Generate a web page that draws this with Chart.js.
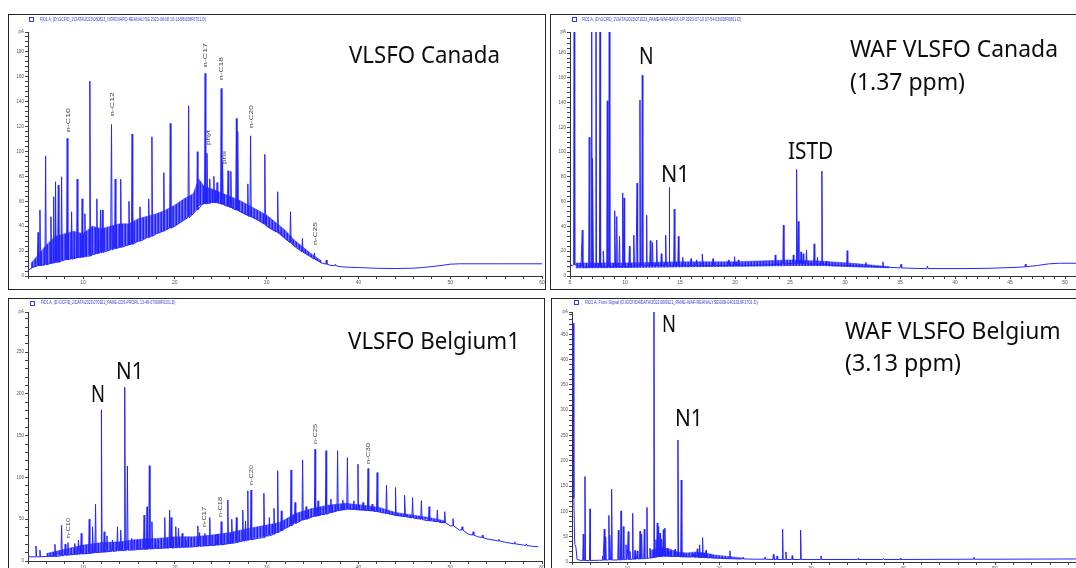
<!DOCTYPE html>
<html>
<head>
<meta charset="utf-8">
<title>VLSFO / WAF chromatograms</title>
<script src="https://cdn.jsdelivr.net/npm/chart.js@4.4.1/dist/chart.umd.min.js"></script>
<style>
  html, body { margin: 0; padding: 0; background: #fff; }
  body { position: relative; width: 1076px; height: 568px; overflow: hidden; }
  canvas { position: absolute; }
  .frame { position: absolute; border: 1px solid #262626; box-sizing: border-box; pointer-events: none; }
  .big { position: absolute; white-space: nowrap; font-family: 'Noto Sans', sans-serif; font-size: 23.5px; color: #0d0d0d; line-height: 1; transform-origin: 0 0; }
  .path { position: absolute; white-space: nowrap; font-family: 'Liberation Sans', sans-serif; font-size: 5px; color: #3a3ad8; line-height: 1; transform-origin: 0 0; }
  .sq { position: absolute; width: 3px; height: 3px; border: 1px solid #3535e0; }
  .pk { position: absolute; white-space: nowrap; font-family: 'Liberation Sans', sans-serif; font-size: 5.5px; color: #3c3c3c; line-height: 1; transform-origin: 0 0; }
</style>
</head>
<body>
<script>
// ─── Data: VLSFO Canada (top left) ───────────────────────────────────────────
const tlBaseT = [4, 4.5, 5, 5.5, 6, 6.5, 7, 7.5, 8, 8.5, 9, 9.5, 10, 10.5, 11, 12, 13, 14, 15, 16, 17, 18, 19, 20, 21, 22, 22.5, 23, 24, 25, 26, 27, 28, 29, 30, 31, 32, 33, 34, 35, 36, 37, 38, 39, 40, 42, 44, 46, 47, 48, 49, 50, 51, 55, 60];
const tlBaseV = [4.5, 7, 8, 8.5, 9, 10, 11, 11.5, 13, 13.5, 14, 15, 15.5, 16, 17, 19, 21, 23, 25, 28, 31, 34, 37, 40, 45, 50, 55, 58, 59, 58, 55, 52, 48, 45, 40, 35.5, 30, 24, 19, 14.5, 10.5, 8.5, 7.5, 7, 6.8, 6.2, 6, 6.3, 6.8, 7.6, 8.4, 9.5, 9.8, 9.8, 9.8];
const tlPeakT = [5.1, 5.3, 5.92, 6.5, 6.8, 7.0, 7.3, 7.66, 8.27, 8.75, 9.36, 9.9, 10.2, 10.74, 11.5, 11.9, 12.1, 13.1, 13.5, 14.1, 15.0, 15.34, 16.2, 17.15, 17.5, 18.8, 19.5, 21.5, 22.45, 23.3, 23.5, 23.8, 24.25, 24.6, 25.05, 25.2, 25.8, 26.1, 26.7, 26.85, 27.95, 28.25, 29.8, 31.2, 32.6, 33.9, 35.2, 36.5, 37.5];
const tlPeakV = [35, 53, 96.5, 47.6, 63.7, 75.7, 73, 79.7, 110.5, 51.6, 77.8, 62, 50, 156.5, 62, 53, 53, 121.7, 77.8, 77.8, 60, 114, 55.6, 62, 111.8, 83, 122.5, 136.7, 99.8, 162.7, 98.5, 78, 80, 75, 150.6, 91.7, 84.5, 84, 126.5, 116, 74, 112.6, 97.7, 67.7, 51.6, 30.2, 18.5, 12.8, 9.5];
const tlPeakB = [8, 8.5, 9, 10, 10.5, 11, 11, 12, 13, 13.5, 14.5, 15, 15.5, 16, 18, 18.5, 19, 21, 22, 23, 25, 25.5, 28, 31, 32, 36, 38.5, 47, 53, 58, 58, 58.5, 59, 59, 58, 57.5, 56, 55, 53, 53, 49, 48, 42, 36, 27, 19.5, 13.5, 9.5, 8.2];
const tlBandT = [4.3, 5, 6, 7, 8, 9, 10, 11, 12, 13, 14, 15, 16, 17, 18, 19, 20, 21, 22, 22.6, 23.2, 24, 25, 26, 27, 28, 29, 30, 31, 32, 33, 34, 35, 36];
const tlBandLo = [6, 8, 9, 11, 13, 14, 15.5, 17, 19, 21, 23, 25, 28, 31, 34, 37, 40, 45, 50, 56, 58, 59, 58, 55, 52, 48, 45, 40, 35.5, 30, 24, 19, 14.5, 10.5];
const tlBandHi = [10, 16, 25, 32, 34, 36, 34, 40, 38, 40, 42, 42, 46, 48, 50, 53, 57, 62, 66, 78, 72, 70, 67, 64, 61, 57, 53, 49, 43, 37, 29, 23, 17, 12];
const tlXMajor = [10, 20, 30, 40, 50, 60];
const tlYMajor = [0, 20, 40, 60, 80, 100, 120, 140, 160, 180];

// ─── Data: WAF VLSFO Canada (top right) ──────────────────────────────────────
const trBaseT = [5, 5.2, 5.6, 6, 6.5, 7, 8, 9, 10, 11, 12, 13, 14, 15, 17, 19, 21, 23, 25, 27, 29, 31, 33, 35, 37, 39, 41, 43, 45, 46.5, 47.5, 48.5, 49.5, 51];
const trBaseV = [10, 8, 9, 7.5, 7, 7.5, 7.5, 7.5, 7.5, 8, 8.5, 8.5, 8, 8.5, 8.5, 8.5, 8.5, 9, 10, 9.5, 8.5, 8, 7.5, 6.5, 6, 6, 6, 6.2, 6.8, 7.5, 8.5, 9.8, 10.3, 10.3];
const trPeakT = [5.38, 6.12, 6.75, 6.97, 7.08, 7.36, 7.73, 8.05, 8.39, 8.57, 9.09, 9.25, 9.5, 9.79, 9.92, 10.4, 10.8, 11.1, 11.36, 11.57, 11.97, 12.3, 12.5, 12.88, 13.3, 13.7, 14.02, 14.48, 14.85, 15.25, 16.0, 16.5, 17.05, 18.0, 19.4, 19.96, 20.3, 22.6, 23.66, 24.4, 25.3, 25.6, 25.76, 26.0, 26.2, 26.5, 27.2, 27.5, 27.9, 28.3, 30.2, 31.9, 33.45, 35.1, 37.5, 46.4];
const trPeakV = [260, 37, 112, 260, 95, 260, 260, 20, 141.4, 260, 52.7, 48, 32, 67, 63, 24, 33, 75, 142, 162, 49, 28.5, 27, 29, 18, 33, 71.5, 54, 32, 15, 14, 13, 17.7, 14, 13, 15.6, 13, 12, 17, 41, 17, 86, 44, 19.5, 18, 21, 26, 15, 84.7, 12, 20.4, 11, 11.5, 9.5, 8, 9.5];
const trPeakB = [9, 7.5, 7.3, 7.5, 7.5, 7.5, 7.5, 7.5, 7.5, 7.5, 7.5, 7.5, 7.5, 7.5, 7.5, 7.8, 8, 8, 8.2, 8.3, 8.5, 8.5, 8.5, 8.5, 8.5, 8.5, 8.3, 8.3, 8.4, 8.5, 8.5, 8.5, 8.5, 8.5, 8.5, 8.5, 8.5, 8.9, 9.3, 9.7, 10, 10, 10, 9.9, 9.9, 9.8, 9.6, 9.5, 9.4, 9.2, 8.3, 7.8, 7.3, 6.5, 6, 7.3];
const trBandT = [5.5, 10, 15, 20, 25, 28, 31, 34];
const trBandLo = [6.3, 6.5, 7, 7.5, 8, 8, 7, 6.3];
const trBandHi = [10.5, 10.5, 11.5, 11.5, 13, 12, 10, 7.5];
const trXMajor = [5, 10, 15, 20, 25, 30, 35, 40, 45, 50];
const trYMajor = [0, 20, 40, 60, 80, 100, 120, 140, 160, 180];

// ─── Data: VLSFO Belgium1 (bottom left) ──────────────────────────────────────
const blBaseT = [4, 5, 6, 7, 8, 9, 10, 11, 12, 13, 14, 15, 16, 17, 18, 19, 20, 21, 22, 23, 24, 25, 26, 27, 28, 29, 30, 31, 32, 33, 34, 35, 36, 37, 38, 39, 40, 41, 42, 43, 44, 45, 46, 47, 48, 49, 50, 51, 52, 53, 54, 55, 56, 57, 58, 59, 59.6];
const blBaseV = [5, 5, 5.5, 6, 7, 8, 8.5, 9.5, 10.5, 11.5, 12.5, 13, 14, 14.5, 15, 15.5, 16, 16.5, 17, 18, 18.5, 19.5, 21, 23, 25, 27, 30, 34, 39, 45, 49, 53, 55.5, 58, 61, 62, 61.5, 60.5, 59, 57, 55, 53.5, 51.5, 49.5, 48, 46, 42, 37, 32, 29, 26.5, 24.5, 22.5, 20.5, 19, 17.5, 17];
const blPeakT = [4.87, 5.3, 6.93, 7.66, 8.05, 8.35, 9.1, 9.5, 9.8, 10.67, 11.05, 11.36, 12.0, 12.3, 12.6, 13.2, 13.75, 14.1, 14.54, 14.83, 15.3, 15.9, 16.65, 16.97, 17.22, 17.5, 17.9, 18.9, 19.43, 19.6, 20.1, 20.4, 20.8, 21.2, 22.5, 22.7, 23.27, 23.8, 24.6, 25.05, 25.77, 26.2, 26.7, 27.4, 27.7, 27.95, 28.3, 29.7, 30.3, 30.8, 31.2, 31.6, 32.66, 33.1, 33.92, 34.3, 35.27, 35.6, 36.47, 37.0, 37.73, 38.3, 38.8, 39.5, 39.95, 40.5, 41.05, 41.5, 42.04, 43.06, 44.04, 45.05, 45.9, 46.86, 47.7, 48.6, 49.4, 50.3, 51.3, 52.5, 53.5, 55.3, 57.05, 58.3];
const blPeakV = [18, 13, 20, 42.7, 20, 22, 21, 25, 33, 50, 41, 68, 181, 35, 30, 25, 41, 37, 208, 113.8, 27, 25, 55, 65, 114, 47, 25, 52, 61, 52, 41, 39, 33, 25, 42, 34, 33, 52, 32, 47, 73, 50, 52, 61, 48, 84, 85, 81, 52, 63, 108, 60, 109, 70, 121, 65, 133.7, 72, 132, 74, 132, 73, 123.7, 72, 115.8, 70, 110.6, 68, 105.8, 90.6, 87.8, 78.6, 75.8, 72.2, 65, 61, 59, 50.7, 41, 35, 31, 26, 23, 20.5];
const blPeakB = [5, 5, 5.5, 6, 7, 7, 8, 8, 8.5, 9, 9.5, 10, 10.5, 10.5, 11, 11.5, 12, 12.5, 12.5, 13, 13, 13.5, 14, 14, 14.5, 14.5, 15, 15.5, 15.5, 15.5, 16, 16, 16.5, 16.5, 17.5, 17.5, 18, 18.5, 19, 19.5, 20.5, 21, 22, 24, 24, 25, 25.5, 28, 30, 32, 34, 36, 42, 45, 49, 50, 53.5, 54, 56, 58, 60, 61, 62, 62, 61.5, 61, 60.5, 60, 59, 57, 55, 53.5, 51.5, 50, 48, 47, 46, 42, 37, 31, 28, 24, 20.5, 18.5];
const blBandT = [6, 8, 10, 12, 14, 16, 18, 20, 22, 24, 26, 28, 30, 31.4, 33.2, 35, 36.8, 38.6, 40.4, 42.3, 44.1, 45.9, 47.7, 49.5];
const blBandLo = [5.5, 7, 8.5, 10.5, 12.5, 14, 15, 16, 17, 18.5, 21, 25, 30, 35, 46, 53, 57, 62, 60.5, 59, 54, 51.5, 49, 45];
const blBandHi = [9, 14, 19, 22, 23, 26, 27, 29, 29, 31, 34, 39, 43, 46, 57, 63, 67, 69, 67, 64, 58, 55, 52, 48];
const blXMajor = [10, 20, 30, 40, 50, 60];
const blYMajor = [0, 50, 100, 150, 200, 250];

// ─── Data: WAF VLSFO Belgium (bottom right) ──────────────────────────────────
const brBaseT = [4, 4.12, 4.2, 4.3, 4.42, 4.55, 5, 6, 7, 8, 9, 10, 11, 12, 13, 14, 15, 16, 17, 18, 19, 20, 21, 22, 24, 26, 30, 40, 50, 58.8];
const brBaseV = [470, 472, 126, 35, 30, 5, 3, 3, 3.5, 4, 4, 5, 6, 7, 10, 12, 11, 10, 10, 9, 8, 7.5, 6.5, 6, 5.5, 5, 5, 5, 5.5, 6];
const brPeakT = [5.23, 5.41, 5.96, 7.33, 7.51, 7.66, 8.02, 8.13, 8.31, 9.04, 9.33, 9.58, 9.87, 10.12, 10.3, 10.6, 10.85, 11.1, 11.4, 11.57, 11.86, 12.15, 12.48, 12.91, 13.13, 13.27, 13.42, 13.57, 13.75, 13.93, 14.1, 14.36, 14.65, 15.2, 15.52, 15.88, 16.17, 17.19, 17.62, 17.88, 18.2, 18.57, 19.05, 21.17, 22.6, 24.98, 25.9, 26.3, 26.9, 27.26, 27.94, 28.86, 31.07, 35.1, 37.87, 39.7, 47.7];
const brPeakV = [55, 169, 105, 12, 65, 50, 92, 53, 144, 63, 101, 70, 34, 60, 21, 96, 23, 22, 61, 55, 65, 108, 27, 520, 44, 77, 70, 57, 45, 64, 67, 27, 21, 25, 241, 162, 16, 16, 26, 34, 48, 23, 15, 22, 9, 10, 15, 12, 65, 20, 12.5, 63, 12, 7, 7, 7.5, 9.5];
const brPeakB = [3, 3, 3, 3.5, 3.5, 3.8, 4, 4, 4, 4, 4, 4.5, 5, 5, 5, 5.5, 5.5, 6, 6, 6.5, 6.5, 7, 8, 9, 10, 10, 11, 11, 11.5, 12, 12, 11.5, 11, 11, 11, 10, 10, 10, 9.5, 9, 9, 8.5, 8, 6.5, 6, 5.5, 5, 5, 5, 5, 5, 5, 5, 5, 5, 5, 5.5];
const brBandT = [12.5, 13.5, 14.5, 15.5, 16.5, 17.5, 18.5, 19.5, 20.5, 21.5, 22.5];
const brBandLo = [7, 10, 11, 10.5, 10, 9.5, 8.5, 7.5, 7, 6.2, 5.8];
const brBandHi = [22, 30, 26, 20, 18, 20, 18, 14, 12, 10, 8];
const brXMajor = [10, 20, 30, 40, 50];
const brYMajor = [0, 50, 100, 150, 200, 250, 300, 350, 400, 450];

// ─── Text ────────────────────────────────────────────────────────────────────
const bigLabels = [
  ['VLSFO Canada', 349, 47, 151],
  ['WAF VLSFO Canada', 850, 41, 208],
  ['(1.37 ppm)', 850, 74, 115],
  ['N', 639, 48, 14.6],
  ['N1', 661, 166, 28.6],
  ['ISTD', 787.5, 143, 45.3],
  ['VLSFO Belgium1', 348, 333, 172],
  ['N', 91, 386, 14],
  ['N1', 115.7, 363, 27.5],
  ['WAF VLSFO Belgium', 845, 323, 215.7],
  ['(3.13 ppm)', 845, 355, 116],
  ['N', 661.7, 316, 14],
  ['N1', 675, 410, 27.7],
];
const peakLabels = [
  ['n-C10', 68.3, 108, 132], ['n-C12', 112.3, 92, 116], ['n-C17', 205.7, 43, 67],
  ['phyt', 208.7, 130, 145], ['n-C18', 222, 57, 80], ['pris', 224.3, 151, 164],
  ['n-C20', 251.7, 105, 128], ['n-C25', 315.7, 222, 245],
  ['n-C10', 68.3, 518, 538], ['n-C17', 205, 507, 527], ['n-C18', 221, 497, 517],
  ['n-C20', 251.7, 465, 485], ['n-C25', 315.7, 424, 444], ['n-C30', 368.3, 443, 464],
];
const pathLabels = [
  ['FID1 A, (D:\\GCFID_2\\DATA\\2023\\080823_NORDVARO-REANALYSE 2023-08-08 10-13-58\\008F0701.D)', 40, 17.2, 166, 29, 17],
  ['FID1 A, (D:\\GCFID_2\\DATA\\2023\\071023_PAME-WAF-BACK-UP 2023-07-10 07-54-03\\008F0801.D)', 581.6, 17.2, 159, 572, 17],
  ['FID1 A, (D:\\GCFID_2\\DATA\\2021\\070921_PAME-CDS-PROFIL 13-49-07\\008F0101.D)', 41, 300.8, 134.5, 29.5, 300.5],
  ['FID1 A, Front Signal (D:\\GCFID4\\DATA\\2021\\090921_PAME-WAF-REANALYSE\\008-0401016F1701.D)', 585, 300.3, 172.7, 574, 300],
];

// ─── Helpers ─────────────────────────────────────────────────────────────────
function buildTrace(baseT, baseV, peakT, peakV, peakB, hw) {
  const pts = baseT.map((t, i) => ({ x: t, y: baseV[i] }));
  peakT.forEach((t, i) => {
    pts.push({ x: t - hw, y: peakB[i] }, { x: t, y: peakV[i] }, { x: t + hw, y: peakB[i] });
  });
  return pts.sort((a, b) => a.x - b.x);
}
const zipXY = (xs, ys) => xs.map((x, i) => ({ x, y: ys[i] }));

function tickList(min, max, step) {
  const out = [];
  for (let v = Math.ceil(min / step - 1e-9) * step; v <= max + 1e-9; v += step) out.push(+v.toFixed(3));
  return out;
}

// dense noise in the hump is drawn as a fine stripe texture
function stripePattern() {
  const c = document.createElement('canvas'); c.width = 3; c.height = 2;
  const g = c.getContext('2d');
  ['#2323ff', '#7474ff', '#4a4aff'].forEach((col, i) => { g.fillStyle = col; g.fillRect(i, 0, 1, 2); });
  return g.createPattern(c, 'repeat');
}
const bandFill = stripePattern();

const tickFont = { family: 'Liberation Sans, Arial, sans-serif', size: 4.5 };

function makePanel(p) {
  const [bx, by, bw, bh] = p.box;
  const [al, at, ar, ab] = p.area;
  const cv = document.createElement('canvas');
  cv.width = bw; cv.height = bh;
  cv.style.left = bx + 'px'; cv.style.top = by + 'px';
  document.body.appendChild(cv);

  const xTicks = tickList(p.x[0], p.x[1], p.xMinor);
  const yTicks = tickList(0, p.y[1] - 1.5, p.yMinor).concat([p.y[1]]);

  new Chart(cv, {
    type: 'line',
    data: {
      datasets: [
        { data: p.trace, borderColor: '#2424ff', borderWidth: 1, pointRadius: 0, tension: 0 },
        { data: p.bandLo, borderWidth: 0, pointRadius: 0, fill: false },
        { data: p.bandHi, borderWidth: 0.6, borderColor: 'rgba(50,50,255,0.8)', backgroundColor: bandFill, pointRadius: 0, fill: '-1' },
      ],
    },
    options: {
      responsive: false, animation: false, devicePixelRatio: 1,
      layout: { padding: { left: 0, top: at - by, right: bx + bw - ar, bottom: 0 } },
      plugins: { legend: { display: false }, tooltip: { enabled: false } },
      scales: {
        x: {
          type: 'linear', min: p.x[0], max: p.x[1],
          afterBuildTicks: (s) => { s.ticks = xTicks.map((v) => ({ value: v })); },
          afterFit: (s) => { s.height = by + bh - ab; s.paddingLeft = 0; s.paddingRight = 0; },
          ticks: { autoSkip: false, maxRotation: 0, padding: 1, color: '#555', font: { ...tickFont, size: 5 },
            callback: (v) => (p.xMajor.includes(v) ? String(v) : '') },
          grid: { drawOnChartArea: false, tickLength: 3, color: '#444' },
          border: { color: '#333', width: 1 },
        },
        y: {
          type: 'linear', min: 0, max: p.y[1],
          afterBuildTicks: (s) => { s.ticks = yTicks.map((v) => ({ value: v })); },
          afterFit: (s) => { s.width = al - bx; s.paddingTop = 0; s.paddingBottom = 0; },
          ticks: { autoSkip: false, padding: 1, color: '#555', font: tickFont,
            callback: (v) => (v === p.y[1] ? 'pA' : (p.yMajor.includes(v) ? String(v) : '')) },
          grid: { drawOnChartArea: false, tickLength: 3, color: '#444' },
          border: { color: '#333', width: 1 },
        },
      },
    },
  });

  const fr = document.createElement('div');
  fr.className = 'frame';
  Object.assign(fr.style, { left: bx + 'px', top: by + 'px', width: bw + 'px', height: bh + 'px' });
  document.body.appendChild(fr);
}

function addText(cls, txt, left, capTop, width, capOff) {
  const el = document.createElement('div');
  el.className = cls; el.textContent = txt;
  document.body.appendChild(el);
  const size = parseFloat(getComputedStyle(el).fontSize);
  el.style.left = left + 'px';
  el.style.top = (capTop - capOff * size) + 'px';
  const k = width / el.getBoundingClientRect().width;
  el.style.transform = `scaleX(${k})`;
}

function addPeakLabel(txt, cx, yTop, yBot) {
  const el = document.createElement('div');
  el.className = 'pk'; el.textContent = txt;
  document.body.appendChild(el);
  const r = el.getBoundingClientRect();
  const k = (yBot - yTop) / r.width;
  el.style.left = (cx - r.height / 2) + 'px';
  el.style.top = yBot + 'px';
  el.style.transform = `rotate(-90deg) scaleX(${k})`;
}

// ─── Build ───────────────────────────────────────────────────────────────────
const panels = [
  { box: [8, 14, 538, 276], area: [28, 32, 542, 276], x: [4, 60], y: [0, 196], xMinor: 2, yMinor: 4,
    xMajor: tlXMajor, yMajor: tlYMajor,
    trace: buildTrace(tlBaseT, tlBaseV, tlPeakT, tlPeakV, tlPeakB, 0.07),
    bandLo: zipXY(tlBandT, tlBandLo), bandHi: zipXY(tlBandT, tlBandHi) },
  { box: [550, 14, 530, 276], area: [570, 32, 1076, 276], x: [5, 51], y: [0, 197], xMinor: 1, yMinor: 4,
    xMajor: trXMajor, yMajor: trYMajor,
    trace: buildTrace(trBaseT, trBaseV, trPeakT, trPeakV, trPeakB, 0.05),
    bandLo: zipXY(trBandT, trBandLo), bandHi: zipXY(trBandT, trBandHi) },
  { box: [8, 298, 537, 275], area: [28, 312, 542, 561], x: [4, 60], y: [0, 298], xMinor: 2, yMinor: 10,
    xMajor: blXMajor, yMajor: blYMajor,
    trace: buildTrace(blBaseT, blBaseV, blPeakT, blPeakV, blPeakB, 0.07),
    bandLo: zipXY(blBandT, blBandLo), bandHi: zipXY(blBandT, blBandHi) },
  { box: [551, 298, 529, 275], area: [572, 312, 1076, 562], x: [4, 58.8], y: [0, 494], xMinor: 2, yMinor: 10,
    xMajor: brXMajor, yMajor: brYMajor,
    trace: buildTrace(brBaseT, brBaseV, brPeakT, brPeakV, brPeakB, 0.06),
    bandLo: zipXY(brBandT, brBandLo), bandHi: zipXY(brBandT, brBandHi) },
];
panels.forEach(makePanel);

pathLabels.forEach(([txt, left, capTop, width, sx, sy]) => {
  addText('path', txt, left, capTop, width, 0.13);
  const sq = document.createElement('div');
  sq.className = 'sq';
  sq.style.left = sx + 'px'; sq.style.top = sy + 'px';
  document.body.appendChild(sq);
});
bigLabels.forEach(([txt, left, capTop, width]) => addText('big', txt, left, capTop, width, 0.174));
peakLabels.forEach(([txt, cx, y0, y1]) => addPeakLabel(txt, cx, y0, y1));
</script>
</body>
</html>
